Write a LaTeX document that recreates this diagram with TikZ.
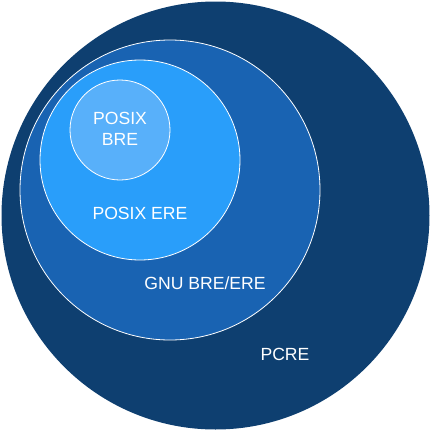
\documentclass[tikz,border=0pt]{standalone}
\usepackage{fontspec}
\setmainfont{Liberation Sans}
\definecolor{pcrecol}{RGB}{14,63,112}
\definecolor{gnucol}{RGB}{25,99,178}
\definecolor{erecol}{RGB}{41,158,250}
\definecolor{brecol}{RGB}{88,176,250}
\begin{document}
\begin{tikzpicture}[x=1pt,y=-1pt,
  setcircle/.style={draw=white, line width=0.8pt},
  label/.style={text=white, font=\fontsize{17.6}{20}\selectfont, anchor=base, inner sep=0pt, align=center}]
\useasboundingbox (0,0) rectangle (432,432);
% nested regex flavours
\fill[pcrecol] (215.5,215.5) circle[radius=214];
\filldraw[setcircle, fill=gnucol] (170,190) circle[radius=150];
\filldraw[setcircle, fill=erecol] (140,160) circle[radius=100];
\filldraw[setcircle, fill=brecol] (120,130) circle[radius=50];
% labels
\node[label] (bre1) at (120,124) {POSIX};
\node[label] (bre2) at (120,145) {BRE};
\node[label] (ere) at (140,219) {POSIX ERE};
\node[label] (gnu) at (205,289) {GNU BRE/ERE};
\node[label] (pcre) at (285,360) {PCRE};
\end{tikzpicture}
\end{document}
